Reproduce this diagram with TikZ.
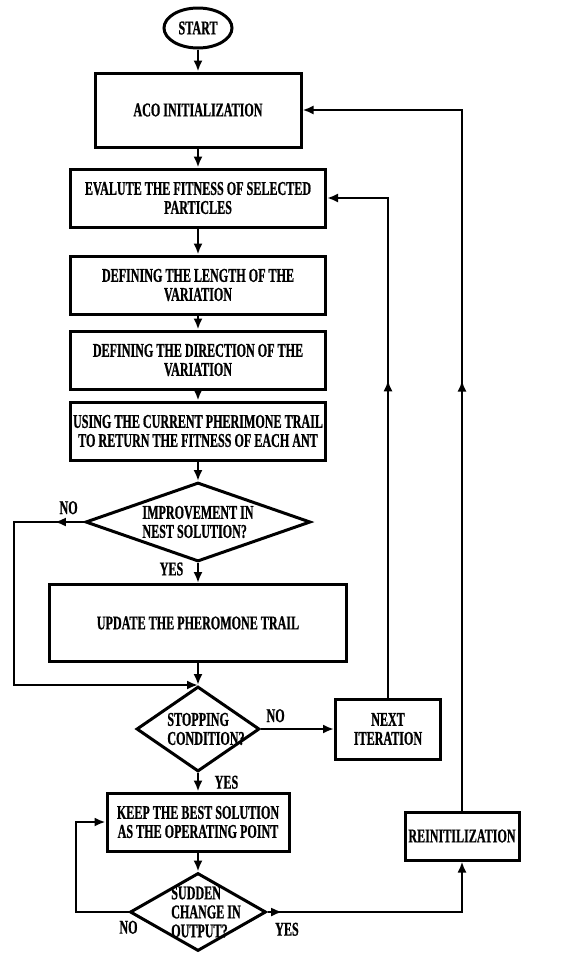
\documentclass[tikz,border=0pt]{standalone}
\usepackage{fontspec}
\usepackage{tikz}
\usetikzlibrary{positioning,shapes.geometric,arrows.meta,decorations.markings}
\newfontfamily\flowfont{Liberation Serif}[FakeStretch=0.62, FakeBold=0.8]

\begin{document}
\begin{tikzpicture}[x=1pt, y=-1pt,
    font=\fontsize{19.5}{19}\flowfont\bfseries,
    process/.style ={rectangle, draw, line width=3pt, align=center, inner xsep=2pt,
      minimum width=255pt, minimum height=58pt},
    decision/.style ={diamond, draw, line width=3pt, align=left, inner sep=0pt},
    terminal/.style ={ellipse, draw, line width=3pt, inner sep=0pt,
      minimum width=68pt, minimum height=40pt},
    flow/.style ={line width=2.8pt, -{Latex[length=11pt,width=9pt]}},
    midarrow/.style ={postaction={decorate}, decoration={markings,
      mark=at position #1 with {\arrow{Latex[length=11pt,width=9pt]}}}}]
   \useasboundingbox (0,0) rectangle (576,956);
   % main column
   \node[terminal] (start) at (198,28) {START};
   \node[process, minimum width=206pt, minimum height=74pt] (aco) at (198,110) {ACO INITIALIZATION};
   \node[process] (eval) at (198,198) {EVALUTE THE FITNESS OF SELECTED\\PARTICLES};
   \node[process] (len) at (198,285) {DEFINING THE LENGTH OF THE\\VARIATION};
   \node[process] (dir) at (198,360) {DEFINING THE DIRECTION OF THE\\VARIATION};
   \node[process] (use) at (198,431) {USING THE CURRENT PHERIMONE TRAIL\\TO RETURN THE FITNESS OF EACH ANT};
   \node[decision, aspect=2.85, minimum width=225pt, minimum height=79pt] (imp) at (198,522) {IMPROVEMENT IN\\NEST SOLUTION?};
   \node[process, minimum width=297pt, minimum height=77pt] (upd) at (198,623) {UPDATE THE PHEROMONE TRAIL};
   \node[decision, minimum width=123pt, minimum height=85pt,
     label={[align=left, xshift=8pt]center:STOPPING\\CONDITION?}] (stop) at (198,729) {};
   \node[process, minimum width=182pt] (keep) at (198,822) {KEEP THE BEST SOLUTION\\AS THE OPERATING POINT};
   \node[decision, minimum width=136pt, minimum height=78pt,
     label={[align=left, xshift=8pt]center:SUDDEN\\CHANGE IN\\OUTPUT?}] (sudden) at (198,912) {};
   % right column
   \node[process, minimum width=105pt, minimum height=60pt] (next) at (388,729) {NEXT\\ITERATION};
   \node[process, minimum width=114pt, minimum height=48pt] (reinit) at (462,836) {REINITILIZATION};
   \coordinate (noturn) at (14,522);
   \coordinate (keepturn) at (76,912);

   \draw[flow] (start) to (aco);
   \draw[flow] (aco) to (eval);
   \draw[flow] (eval) to (len);
   \draw[flow] (len) to (dir);
   \draw[flow] (dir) to (use);
   \draw[flow] (use) to (imp);
   \draw[flow] (imp) to node[left=10pt, pos=0.3] {YES} (upd);
   \draw[flow, midarrow=0.07] (imp.west) -- node[above=3pt, pos=0.22] {NO} (noturn) |- (stop.north);
   \draw[flow] (upd) to (stop);
   \draw[flow] (stop) to node[above=2pt, pos=0.2] {NO} (next);
   \draw[flow] (stop) to node[right=12pt] {YES} (keep);
   \draw[flow, midarrow=0.566] (next) |- (eval);
   \draw[flow] (keep) to (sudden);
   \draw[flow] (sudden.west) -- node[below=4pt, pos=0] {NO} (keepturn) |- (keep);
   \draw[flow, midarrow=0.06] (sudden) -| node[below=6pt, pos=0.05] {YES} (reinit);
   \draw[flow, midarrow=0.5] (reinit) |- (aco);
 \end{tikzpicture}
\end{document}
